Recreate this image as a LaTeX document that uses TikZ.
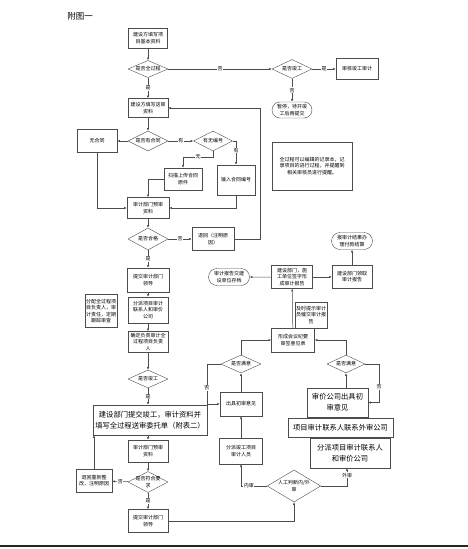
\documentclass[tikz,border=0pt]{standalone}
\usepackage{fontspec}
\setmainfont{Noto Sans CJK SC}
\usetikzlibrary{shapes.geometric,shapes.misc,arrows.meta}

\tikzset{
  box/.style={draw=black!70, rectangle, align=center, inner sep=0.5pt,
    font=\fontsize{5}{6.2}\selectfont},
  bigbox/.style={box, font=\fontsize{7.3}{11}\selectfont},
  cond/.style={draw=black!70, diamond, aspect=2, align=center, inner sep=0pt,
    font=\fontsize{5}{6.2}\selectfont},
  term/.style={draw=black!70, rounded rectangle, align=center, inner sep=0.5pt,
    font=\fontsize{5}{6.2}\selectfont},
  flow/.style={draw=black!70, line width=0.5pt, -{Latex[length=2.6pt,width=2.2pt]}},
  tag/.style={fill=white, inner sep=0.6pt, font=\fontsize{5}{6}\selectfont},
}

\begin{document}
\begin{tikzpicture}[x=1pt, y=-1pt]
    \useasboundingbox (0,0) rectangle (468,549);
    \node (title) at (80,16) {\fontsize{8.5}{9}\selectfont 附图一};

    % Main column
    % Vertices
    \node[box, minimum width=39pt, minimum height=20pt] (info) at (148,38) {建设方填写项\\目基本资料};
    \node[cond, minimum width=40pt, minimum height=17pt] (full) at (148,69) {是否全过程};
    \node[cond, minimum width=40pt, minimum height=19pt] (check1) at (292,69) {是否竣工};
    \node[box, minimum width=42pt, minimum height=21pt] (audit) at (357,69) {审核竣工审计};
    \node[term, minimum width=41pt, minimum height=16pt] (wait) at (292,110) {暂停，待开竣\\工后再提交};
    \node[box, minimum width=40pt, minimum height=19pt] (submit) at (148,108) {建设方填写送审\\资料};
    \node[cond, minimum width=40pt, minimum height=20pt] (contract) at (148,141) {是否有合同};
    \node[box, minimum width=40pt, minimum height=23pt] (nocon) at (97,141) {无合同};
    \node[cond, minimum width=39pt, minimum height=20pt] (numq) at (213,141) {有无编号};
    \node[box, minimum width=38pt, minimum height=22pt] (scan) at (183,179) {扫描上传合同\\原件};
    \node[box, minimum width=38pt, minimum height=30pt] (input) at (236,180) {输入合同编号};
    \node[box, minimum width=42pt, minimum height=21pt] (pre1) at (148,208) {审计部门预审\\资料};
    \node[cond, minimum width=40pt, minimum height=22pt] (ok) at (148,239) {是否合格};
    \node[box, minimum width=42pt, minimum height=23pt] (back) at (213,239) {退回（注明原\\因）};
    \node[box, minimum width=80pt, minimum height=48pt] (note) at (312,166)
      {全过程可以编辑的记录本，记\\录项目的进行过程，并提醒到\\相关审核员进行提醒。};
    \node[box, minimum width=42pt, minimum height=24pt] (lead1) at (148,280) {提交审计部门\\领导};
    \node[box, minimum width=40pt, minimum height=26pt] (assign) at (148,310) {分派项目审计\\联系人和审价\\公司};
    \node[box, minimum width=32pt, minimum height=33pt] (plan) at (101,311) {分配全过程项\\目负责人，审\\计责任，定期\\跟踪审查};
    \node[box, minimum width=40pt, minimum height=21pt] (resp) at (148,342) {确定负责审计全\\过程项目负责\\人};
    \node[cond, minimum width=40pt, minimum height=18pt] (done) at (148,379) {是否竣工};
    \node[bigbox, minimum width=114pt, minimum height=30pt] (wide) at (150,420) {建设部门提交竣工，审计资料并\\填写全过程送审委托单（附表二）};
    \node[box, minimum width=40pt, minimum height=22pt] (pre2) at (148,451) {审计部门预审\\资料};
    \node[cond, minimum width=40pt, minimum height=21pt, inner sep=-2pt] (req) at (148,482) {是否符合要\\求};
    \node[box, minimum width=36pt, minimum height=23pt] (redo) at (94,481) {退回重新整\\改，注明原因};
    \node[box, minimum width=40pt, minimum height=23pt] (lead2) at (148,521) {提交审计部门\\领导};

    % Right part
    % Vertices
    \node[cond, minimum width=51pt, minimum height=32pt] (judge) at (294,486) {人工判断内/外\\审};
    \node[box, minimum width=43pt, minimum height=26pt] (inner) at (241,451) {分派竣工项目\\审计人员};
    \node[box, minimum width=42pt, minimum height=24pt] (opinion) at (241,404) {出具初审意见};
    \node[cond, minimum width=40pt, minimum height=18pt] (sat1) at (241,364) {是否满意};
    \node[box, minimum width=43pt, minimum height=24pt] (meeting) at (293,340) {形成会议纪要\\审签意见表};
    \node[cond, minimum width=38pt, minimum height=18pt] (sat2) at (346,364) {是否满意};
    \node[bigbox, minimum width=61pt, minimum height=29pt] (price) at (337.5,402.5) {审价公司出具初\\审意见};
    \node[bigbox, minimum width=105pt, minimum height=19pt] (contact) at (340.5,427.5) {项目审计联系人联系外审公司};
    \node[bigbox, minimum width=80pt, minimum height=30pt] (outer) at (350,453) {分派项目审计联系人\\和审价公司};
    \node[box, minimum width=41pt, minimum height=23pt] (report) at (292,277) {建设部门，施\\工单位签字形\\成审计报告};
    \node[term, minimum width=42pt, minimum height=17pt] (archive) at (229,277) {审计报告交建\\设单位存档};
    \node[box, minimum width=40pt, minimum height=23pt] (collect) at (352,277) {建设部门领取\\审计报告};
    \node[term, minimum width=42pt, minimum height=17pt] (pay) at (352,241) {报审计结果办\\理付款结算};
    \node[box, minimum width=32pt, minimum height=26pt] (remind) at (311,315) {及时提示审计\\员催交审计报\\告};
    \coordinate (ret) at (260,108);

    % Edges
    \draw[flow] (info) -- (full);
    \draw[flow] (full) -- node[tag]{否} (check1);
    \draw[flow] (check1) -- node[tag]{是} (audit);
    \draw[flow] (check1) -- node[tag]{否} (wait);
    \draw[flow] (full) -- node[tag]{是} (submit);
    \draw[flow] (submit) -- (contract);
    \draw[flow] (contract) -- (nocon);
    \draw[flow] (contract) -- node[tag]{有} (numq);
    \draw[flow] (numq.south) -- ++(0,6) -| node[tag, pos=0.25]{无} (scan.north);
    \draw[flow] (numq.east) -| node[tag, pos=0.7]{有} (input.north);
    \draw[flow] (nocon.south) |- (pre1.west);
    \draw[flow] (scan.west) -| (pre1.north);
    \draw[flow] (input.south) |- (pre1.east);
    \draw[flow] (pre1) -- (ok);
    \draw[flow] (ok) -- node[tag]{否} (back);
    \draw[flow] (back.east) -| (ret) -- (submit.east);
    \draw[flow] (ok) -- node[tag]{是} (lead1);
    \draw[flow] (lead1) -- (assign);
    \draw[flow] (assign) -- (resp);
    \draw[flow] (resp) -- (done);
    \draw[flow] (done.south) -- node[tag]{是} (done.south |- wide.north);
    \draw[flow] (wide.south -| pre2.north) -- (pre2.north);
    \draw[flow] (pre2) -- (req);
    \draw[flow] (req) -- node[tag]{否} (redo);
    \draw[flow] (redo.north) -- (redo.north |- wide.south);
    \draw[flow] (req) -- node[tag]{是} (lead2);
    \draw[flow] (lead2.east) -| (judge.south);
    \draw[flow] (judge.west) -| node[tag, pos=0.35]{内审} (inner.south);
    \draw[flow] (judge.east) -| node[tag, pos=0.8]{外审} ([xshift=-3pt]outer.south);
    \draw[flow] (inner) -- (opinion);
    \draw[flow] (opinion) -- (sat1);
    \draw[flow] (sat1.west) -- ++(-14,0) |- node[tag, pos=0.3]{否} (opinion.west);
    \draw[flow] (sat1.north) |- (meeting.west);
    \draw[flow] (sat2.north) |- (meeting.east);
    \draw[flow] (sat2.east) -- ++(14,0) |- node[tag, pos=0.3]{否} (price.east);
    \draw[flow] (price.north -| sat2.south) -- (sat2.south);
    \draw[flow] (meeting) -- (report);
    \draw[flow] (report) -- (archive);
    \draw[flow] (report) -- (collect);
    \draw[flow] (collect) -- (pay);

    % Page edge
    \draw[line width=1.2pt, black!85] (0,546) -- (468,546);
\end{tikzpicture}
\end{document}
